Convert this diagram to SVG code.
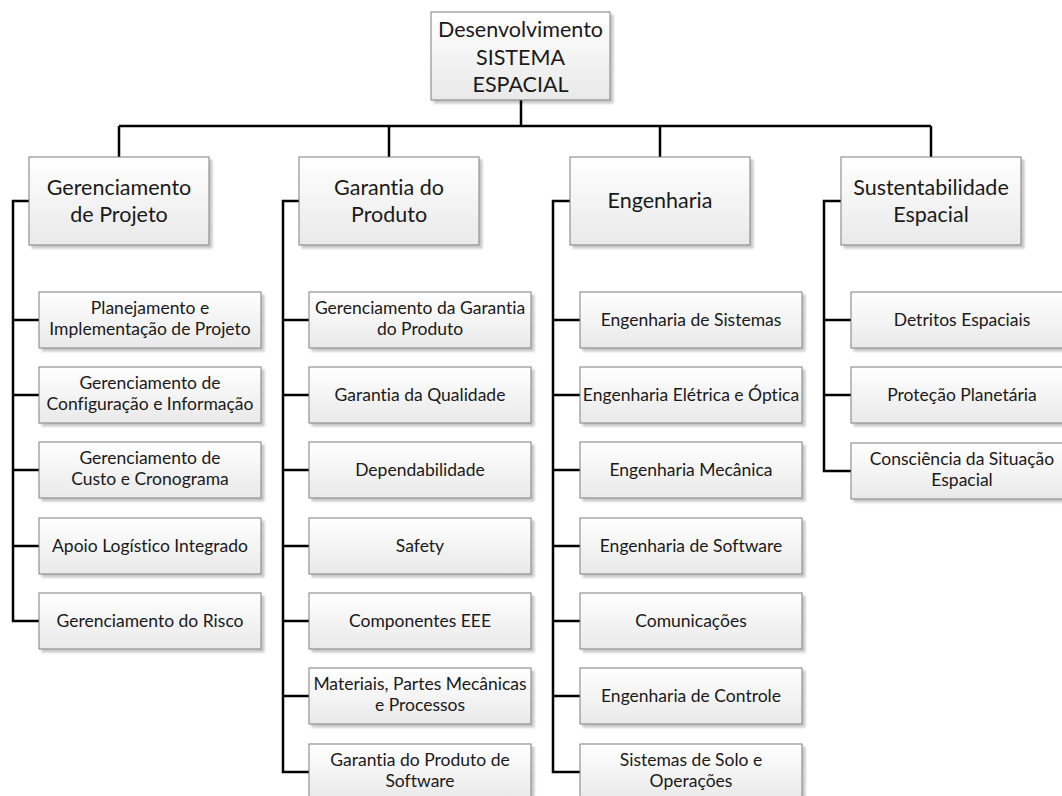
<svg xmlns="http://www.w3.org/2000/svg" width="1062" height="796" viewBox="0 0 1062 796">
<defs>
<linearGradient id="g" x1="0" y1="0" x2="0" y2="1">
<stop offset="0" stop-color="#ffffff"/>
<stop offset="1" stop-color="#e9e9e9"/>
</linearGradient>
<filter id="sh" x="-10%" y="-10%" width="130%" height="140%">
<feDropShadow dx="3" dy="3" stdDeviation="1.2" flood-color="#000" flood-opacity="0.22"/>
</filter>
</defs>
<style>
.box{fill:url(#g);stroke:#7f7f7f;stroke-width:1;filter:url(#sh)}
text{font-variant-ligatures:none}
.t1{font-family:Lato,"Liberation Sans",sans-serif;font-size:21.5px;fill:#1a1a1a;text-anchor:middle}
.t2{font-family:Lato,"Liberation Sans",sans-serif;font-size:17.5px;fill:#1a1a1a;text-anchor:middle}
.c{fill:none;stroke:#000;stroke-width:2.5}
</style>
<rect width="1062" height="796" fill="#fff"/>
<g id="connectors">
<path class="c" d="M521 100V126M119 126H931M119 126V157M389 126V157M660 126V157M931 126V157"/>
<path class="c" d="M29 201H13V621H39M13 320H39M13 395H39M13 470H39M13 546H39"/>
<path class="c" d="M299 201H283V772H309M283 320H309M283 395H309M283 470H309M283 546H309M283 621H309M283 696H309"/>
<path class="c" d="M570 201H553V772H580M553 320H580M553 395H580M553 470H580M553 546H580M553 621H580M553 696H580"/>
<path class="c" d="M841 201H824V471H851M824 320H851M824 395H851"/>
</g>
<g id="root"><rect class="box" x="431" y="12" width="179" height="88"/>
<text class="t1" x="520.5" y="37">Desenvolvimento</text><text class="t1" x="520.5" y="64.5">SISTEMA</text><text class="t1" x="520.5" y="92">ESPACIAL</text></g>
<g id="n-gp"><rect class="box" x="29" y="157" width="180" height="88"/><text class="t1" x="119" y="195">Gerenciamento</text><text class="t1" x="119" y="222">de Projeto</text></g>
<g id="n-ga"><rect class="box" x="299" y="157" width="180" height="88"/><text class="t1" x="389" y="195">Garantia do</text><text class="t1" x="389" y="222">Produto</text></g>
<g id="n-en"><rect class="box" x="570" y="157" width="180" height="88"/><text class="t1" x="660" y="208">Engenharia</text></g>
<g id="n-se"><rect class="box" x="841" y="157" width="180" height="88"/><text class="t1" x="931" y="195">Sustentabilidade</text><text class="t1" x="931" y="222">Espacial</text></g>

<g id="gp1"><rect class="box" x="39" y="292" width="222" height="56"/><text class="t2" x="150" y="314">Planejamento e</text><text class="t2" x="150" y="335">Implementação de Projeto</text></g>
<g id="gp2"><rect class="box" x="39" y="367" width="222" height="56"/><text class="t2" x="150" y="389">Gerenciamento de</text><text class="t2" x="150" y="410">Configuração e Informação</text></g>
<g id="gp3"><rect class="box" x="39" y="442" width="222" height="56"/><text class="t2" x="150" y="464">Gerenciamento de</text><text class="t2" x="150" y="485">Custo e Cronograma</text></g>
<g id="gp4"><rect class="box" x="39" y="518" width="222" height="56"/><text class="t2" x="150" y="552">Apoio Logístico Integrado</text></g>
<g id="gp5"><rect class="box" x="39" y="593" width="222" height="56"/><text class="t2" x="150" y="627">Gerenciamento do Risco</text></g>

<g id="ga1"><rect class="box" x="309" y="292" width="222" height="56"/><text class="t2" x="420" y="314">Gerenciamento da Garantia</text><text class="t2" x="420" y="335">do Produto</text></g>
<g id="ga2"><rect class="box" x="309" y="367" width="222" height="56"/><text class="t2" x="420" y="401">Garantia da Qualidade</text></g>
<g id="ga3"><rect class="box" x="309" y="442" width="222" height="56"/><text class="t2" x="420" y="476">Dependabilidade</text></g>
<g id="ga4"><rect class="box" x="309" y="518" width="222" height="56"/><text class="t2" x="420" y="552">Safety</text></g>
<g id="ga5"><rect class="box" x="309" y="593" width="222" height="56"/><text class="t2" x="420" y="627">Componentes EEE</text></g>
<g id="ga6"><rect class="box" x="309" y="668" width="222" height="56"/><text class="t2" x="420" y="690">Materiais, Partes Mecânicas</text><text class="t2" x="420" y="711">e Processos</text></g>
<g id="ga7"><rect class="box" x="309" y="744" width="222" height="56"/><text class="t2" x="420" y="766">Garantia do Produto de</text><text class="t2" x="420" y="787">Software</text></g>

<g id="en1"><rect class="box" x="580" y="292" width="222" height="56"/><text class="t2" x="691" y="326">Engenharia de Sistemas</text></g>
<g id="en2"><rect class="box" x="580" y="367" width="222" height="56"/><text class="t2" x="691" y="401">Engenharia Elétrica e Óptica</text></g>
<g id="en3"><rect class="box" x="580" y="442" width="222" height="56"/><text class="t2" x="691" y="476">Engenharia Mecânica</text></g>
<g id="en4"><rect class="box" x="580" y="518" width="222" height="56"/><text class="t2" x="691" y="552">Engenharia de Software</text></g>
<g id="en5"><rect class="box" x="580" y="593" width="222" height="56"/><text class="t2" x="691" y="627">Comunicações</text></g>
<g id="en6"><rect class="box" x="580" y="668" width="222" height="56"/><text class="t2" x="691" y="702">Engenharia de Controle</text></g>
<g id="en7"><rect class="box" x="580" y="744" width="222" height="56"/><text class="t2" x="691" y="766">Sistemas de Solo e</text><text class="t2" x="691" y="787">Operações</text></g>

<g id="se1"><rect class="box" x="851" y="292" width="222" height="56"/><text class="t2" x="962" y="326">Detritos Espaciais</text></g>
<g id="se2"><rect class="box" x="851" y="367" width="222" height="56"/><text class="t2" x="962" y="401">Proteção Planetária</text></g>
<g id="se3"><rect class="box" x="851" y="443" width="222" height="56"/><text class="t2" x="962" y="465">Consciência da Situação</text><text class="t2" x="962" y="486">Espacial</text></g>
</svg>
